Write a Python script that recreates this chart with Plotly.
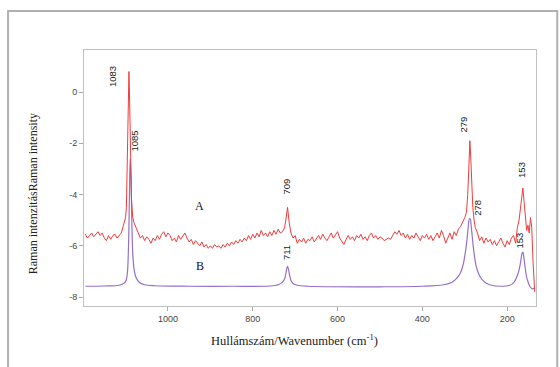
import plotly.graph_objects as go

# ---- Data ----
a_x = [1195, 1190, 1185, 1180, 1175, 1170, 1165, 1160, 1155, 1150, 1145, 1140, 1135, 1130, 1125,
       1120, 1115, 1110, 1105, 1100, 1098, 1095, 1093, 1092, 1091, 1089, 1086, 1083, 1080, 1075,
       1070, 1065, 1060, 1055, 1050, 1045, 1040, 1035, 1030, 1025, 1020, 1015, 1010, 1005, 1000,
       995, 990, 985, 980, 975, 970, 965, 960, 955, 950, 945, 940, 935, 930, 925,
       920, 915, 910, 905, 900, 895, 890, 885, 880, 875, 870, 865, 860, 855, 850, 845, 840,
       835, 830, 825, 820, 815, 810, 805, 800, 795, 790, 785, 780, 775, 770, 765, 760, 755, 750,
       745, 740, 735, 730, 725, 722, 718, 714, 710, 705, 700, 695, 690, 685, 680, 675, 670, 665,
       660, 655, 650, 645, 640, 635, 630, 625, 620, 615, 610, 605, 600, 595, 590, 585, 580, 575,
       570, 565, 560, 555, 550, 545, 540, 535, 530, 525, 520, 515, 510, 505, 500, 495, 490, 485,
       480, 475, 470, 465, 460, 455, 450, 445, 440, 435, 430, 425, 420, 415, 410, 405, 400, 395,
       390, 385, 380, 375, 370, 365, 360, 355, 350, 345, 340, 335, 330, 325, 320, 315, 310, 305,
       300, 296, 293, 290, 288, 286, 284, 281, 278, 275, 270, 265, 260, 255, 250, 245, 240, 235,
       230, 225, 220, 215, 210, 205, 200, 195, 190, 185, 180, 176, 172, 168, 165, 163, 160, 157,
       154, 151, 148, 145, 142, 139, 135]
a_y = [-5.55, -5.7, -5.6, -5.5, -5.65, -5.55, -5.45, -5.6, -5.5, -5.7, -5.8, -5.6, -5.75, -5.6, -5.55,
       -5.7, -5.6, -5.5, -5.2, -4.9, -4.5, -2.0, 0.3, 0.8, 0.2, -2.5, -4.2, -4.9, -5.1, -5.3,
       -5.5, -5.7, -5.6, -5.8, -5.65, -5.75, -5.9, -5.7, -5.8, -5.6, -5.75, -5.55, -5.45, -5.65, -5.5,
       -5.6, -5.8, -5.7, -5.85, -5.6, -5.75, -5.6, -5.5, -5.7, -5.85, -5.75, -5.95, -5.8, -5.9, -6.0,
       -5.85, -6.05, -5.95, -6.1, -6.0, -6.1, -5.95, -6.05, -6.0, -6.1, -5.95, -6.05, -5.9, -6.0, -5.85, -5.95, -5.8,
       -5.9, -5.75, -5.85, -5.7, -5.8, -5.6, -5.75, -5.55, -5.7, -5.5, -5.65, -5.4, -5.6, -5.5, -5.65, -5.45, -5.6, -5.4,
       -5.55, -5.35, -5.5, -5.45, -5.3, -5.0, -4.5, -5.1, -5.5, -5.7, -5.6, -5.9, -5.75, -5.85, -5.7, -5.9, -5.75, -5.8,
       -5.65, -5.85, -5.7, -5.6, -5.75, -5.55, -5.7, -5.8, -5.65, -5.5, -5.7, -5.55, -5.45, -5.7, -5.85, -5.95, -5.75, -5.6,
       -5.75, -5.65, -5.8, -5.6, -5.7, -5.55, -5.75, -5.65, -5.8, -5.6, -5.5, -5.7, -5.6, -5.75, -5.65, -5.7, -5.8, -5.75,
       -5.7, -5.75, -5.6, -5.45, -5.55, -5.4, -5.6, -5.5, -5.7, -5.55, -5.75, -5.6, -5.7, -5.5, -5.65, -5.8, -5.6, -5.7,
       -5.55, -5.75, -5.6, -5.8, -5.65, -5.5, -5.7, -5.4, -5.6, -5.9, -5.7, -5.5, -5.75, -5.45, -5.6, -5.35, -5.25, -5.1,
       -4.9, -4.7, -4.0, -2.8, -1.9, -2.5, -3.6, -4.5, -5.0, -5.3, -5.5, -5.8, -5.65, -5.9, -5.7, -5.85, -5.75, -5.95,
       -5.8, -6.0, -5.85, -5.7, -5.9, -6.05, -5.8, -5.95, -5.7, -5.6, -5.9, -5.3, -5.0, -4.5, -4.0, -3.75, -4.3, -5.0,
       -5.4, -5.2, -5.5, -4.9, -5.3, -6.6, -7.8]

b_x = [1195, 1150, 1120, 1108, 1100, 1096, 1093, 1091, 1089, 1087, 1085, 1083, 1080, 1075, 1068,
       1055, 1030, 950, 850, 760, 740, 730, 725, 722, 720, 718, 716, 713, 710, 705, 695, 670,
       500, 400, 350, 330, 318, 310, 304, 299, 295, 292, 289, 287, 285, 282, 278, 273, 267,
       260, 250, 235, 215, 195, 185, 177, 172, 168, 165, 163, 161, 158, 155, 151, 146, 141, 136]
b_y = [-7.58, -7.57, -7.55, -7.5, -7.4, -7.1, -6.0, -4.2, -2.6, -3.4, -5.2, -6.3, -6.9, -7.25, -7.42,
       -7.52, -7.56, -7.58, -7.58, -7.57, -7.52, -7.42, -7.3, -7.1, -6.9, -6.8, -6.9, -7.15, -7.35, -7.47, -7.54, -7.58,
       -7.6, -7.58, -7.52, -7.42, -7.25, -7.05, -6.75, -6.3, -5.8, -5.3, -4.95, -4.95, -5.2, -5.7, -6.3, -6.8, -7.1,
       -7.3, -7.45, -7.55, -7.58, -7.55, -7.45, -7.2, -6.95, -6.6, -6.3, -6.25, -6.4, -6.8, -7.15, -7.4, -7.6, -7.68, -7.65]

peak_labels = ["1083", "1085", "709", "711", "279", "278", "153", "153"]
peak_label_x = [1132, 1078, 720, 722, 303, 270, 168, 170]
peak_label_y = [0.62, -1.9, -3.7, -6.25, -1.25, -4.5, -3.05, -5.8]

series_names = ["A", "B"]
series_label_x = [925, 925]
series_label_y = [-4.45, -6.8]

x_ticks = [1000, 800, 600, 400, 200]
x_tick_text = ["1000", "800", "600", "400", "200"]
y_ticks = [0, -2, -4, -6, -8]
y_tick_text = ["0", "-2", "-4", "-6", "-8"]

# ---- Figure ----
fig = go.Figure()
fig.add_trace(go.Scatter(x=b_x, y=b_y, mode="lines", line=dict(color="#9470c8", width=1.2),
                         name="B", showlegend=False, line_shape="spline"))
fig.add_trace(go.Scatter(x=a_x, y=a_y, mode="lines", line=dict(color="#f03c3c", width=1),
                         name="A", showlegend=False))

for t, x, y in zip(peak_labels, peak_label_x, peak_label_y):
    fig.add_annotation(x=x, y=y, text=t, showarrow=False, textangle=-90,
                       font=dict(family="Liberation Sans, Arial", size=9.5, color="#222"))
for t, x, y in zip(series_names, series_label_x, series_label_y):
    fig.add_annotation(x=x, y=y, text=t, showarrow=False,
                       font=dict(family="Liberation Serif, Times New Roman", size=12, color="#111"))

# axis titles
fig.add_annotation(xref="paper", yref="paper", x=-0.113, y=0.44, xanchor="center", yanchor="middle",
                   text="Raman intenzitásRaman intensity", textangle=-90, showarrow=False,
                   font=dict(family="Liberation Serif, Times New Roman", size=12, color="#222"))
fig.add_annotation(xref="paper", yref="paper", x=0.466, y=-0.133, xanchor="center", yanchor="middle",
                   text="Hullámszám/Wavenumber (cm<sup>-1</sup>)", showarrow=False,
                   font=dict(family="Liberation Serif, Times New Roman", size=12.5, color="#222"))

# outer frame
fig.add_shape(type="rect", xref="paper", yref="paper", x0=-0.168, x1=1.047, y0=-0.25, y1=1.152,
              line=dict(color="#b0b0b0", width=2), layer="below")

axis_font = dict(family="Liberation Sans, Arial", size=9, color="#444")
fig.update_xaxes(range=[1198, 132], tickvals=x_ticks, ticktext=x_tick_text, ticks="outside",
                 ticklen=4, tickcolor="#aaa", showgrid=False, zeroline=False, showline=True,
                 linecolor="#c0c0c0", mirror=True, tickfont=axis_font)
fig.update_yaxes(range=[-8.35, 1.64], tickvals=y_ticks, ticktext=y_tick_text, ticks="outside",
                 ticklen=4, tickcolor="#aaa", showgrid=False, zeroline=False, showline=True,
                 linecolor="#c0c0c0", mirror=True, tickfont=axis_font)
fig.update_layout(width=560, height=367, margin=dict(l=84, r=24, t=50, b=61),
                  plot_bgcolor="white", paper_bgcolor="white")

fig.write_html("out.html", config={"displayModeBar": False},
               post_script="document.body.style.margin='0';document.body.style.overflow='hidden';")
